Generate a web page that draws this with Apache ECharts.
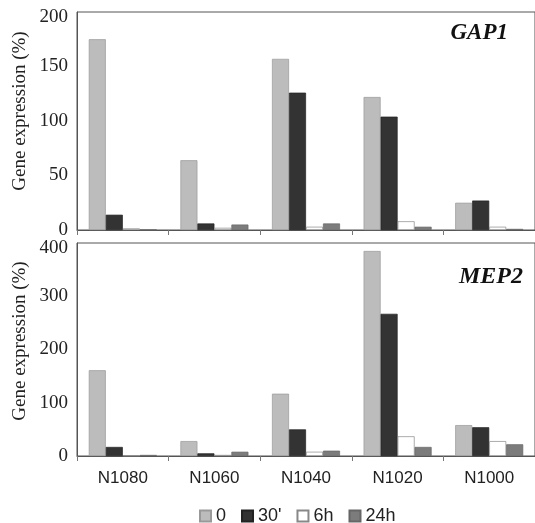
<!DOCTYPE html>
<html>
<head>
<meta charset="utf-8">
<title>GAP1 / MEP2</title>
<script src="https://cdn.jsdelivr.net/npm/echarts@6/dist/echarts.min.js"></script>
<style>
  html, body { margin: 0; padding: 0; background: #fff; }
  #chart { width: 535px; height: 523px; }
</style>
</head>
<body>
<div id="chart"></div>
<script>
// strains (x categories)
var strains = ['N1080', 'N1060', 'N1040', 'N1020', 'N1000'];
var times = ['0', "30'", '6h', '24h'];

// GAP1 expression (%)
var gap1_0   = [175, 64, 157, 122, 25];
var gap1_30  = [14, 6, 126, 104, 27];
var gap1_6h  = [1.5, 2, 3, 8, 3];
var gap1_24h = [0.3, 5, 6, 3, 1];

// MEP2 expression (%)
var mep2_0   = [161, 28, 117, 385, 58];
var mep2_30  = [17, 5, 50, 267, 54];
var mep2_6h  = [1, 2, 8, 37, 28];
var mep2_24h = [2, 8, 10, 17, 22];

var gap1Ticks = [0, 50, 100, 150, 200];
var mep2Ticks = [0, 100, 200, 300, 400];

var fills   = ['#bcbcbc', '#333333', '#ffffff', '#7c7c7c'];
var borders = ['#999999', '#222222', '#888888', '#666666'];

var chart = echarts.init(document.getElementById('chart'));

function mkSeries(name, idx, data, gi) {
  return {
    name: name, type: 'bar',
    xAxisIndex: gi, yAxisIndex: gi,
    data: data,
    barWidth: 17, barGap: '0%',
    itemStyle: { color: fills[idx], borderColor: borders[idx], borderWidth: 0.7 },
    emphasis: { disabled: true }
  };
}

function xAx(gi, labels) {
  return {
    type: 'category', gridIndex: gi, data: strains,
    axisLine: { lineStyle: { color: '#555', width: 1 } },
    axisTick: { show: true, length: 5, lineStyle: { color: '#777' } },
    axisLabel: { show: labels, margin: 14, color: '#222', fontSize: 17, fontFamily: 'Liberation Sans' },
    splitLine: { show: false }
  };
}

function yAx(gi, ticks) {
  var top = ticks[ticks.length - 1];
  return {
    type: 'value', gridIndex: gi,
    min: ticks[0], max: top, interval: ticks[1] - ticks[0],
    axisLine: { show: true, lineStyle: { color: '#555', width: 1 } },
    axisTick: { show: false },
    axisLabel: {
      margin: 9, color: '#222', fontSize: 19, fontFamily: 'Liberation Serif',
      // top label sits a little lower, like in the original
      formatter: function (v) { return v === top ? '{m|' + v + '}' : '' + v; },
      rich: { m: { fontSize: 19, fontFamily: 'Liberation Serif', color: '#222', padding: [10, 0, 0, 0] } }
    },
    splitLine: { show: false }
  };
}

var series = [
  mkSeries(times[0], 0, gap1_0, 0),
  mkSeries(times[1], 1, gap1_30, 0),
  mkSeries(times[2], 2, gap1_6h, 0),
  mkSeries(times[3], 3, gap1_24h, 0),
  mkSeries(times[0], 0, mep2_0, 1),
  mkSeries(times[1], 1, mep2_30, 1),
  mkSeries(times[2], 2, mep2_6h, 1),
  mkSeries(times[3], 3, mep2_24h, 1)
];

var yTitle = { text: 'Gene expression (%)', font: '19px "Liberation Serif"', fill: '#222', align: 'center', verticalAlign: 'middle' };

chart.setOption({
  backgroundColor: '#fff',
  animation: false,
  grid: [
    { left: 77, top: 12, width: 461, height: 218, show: true, borderColor: '#555', borderWidth: 1 },
    { left: 77, top: 243, width: 461, height: 213, show: true, borderColor: '#555', borderWidth: 1 }
  ],
  xAxis: [xAx(0, false), xAx(1, true)],
  yAxis: [yAx(0, gap1Ticks), yAx(1, mep2Ticks)],
  legend: {
    data: times, top: 502, left: 194,
    icon: 'rect', itemWidth: 11, itemHeight: 11, itemGap: 15,
    textStyle: { fontSize: 18, color: '#222', fontFamily: 'Liberation Sans' }
  },
  graphic: [
    { type: 'text', x: 20, y: 111, rotation: Math.PI / 2, style: yTitle },
    { type: 'text', x: 20, y: 341, rotation: Math.PI / 2, style: yTitle },
    { type: 'text', x: 508, y: 33,
      style: { text: 'GAP1', font: 'italic bold 23px "Liberation Serif"', fill: '#111', align: 'right', verticalAlign: 'middle' } },
    { type: 'text', x: 523, y: 277,
      style: { text: 'MEP2', font: 'italic bold 24px "Liberation Serif"', fill: '#111', align: 'right', verticalAlign: 'middle' } }
  ],
  series: series
});
</script>
</body>
</html>
